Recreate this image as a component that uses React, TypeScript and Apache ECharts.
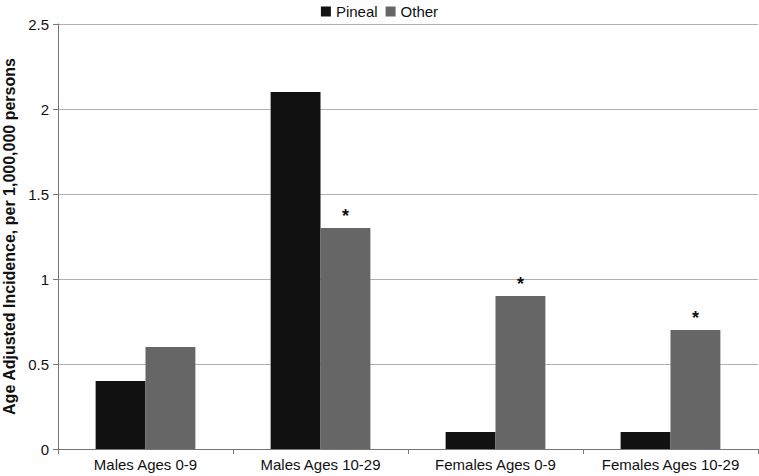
import React, { useEffect, useRef } from "react";
import * as echarts from "echarts";

const categories = ["Males Ages 0-9", "Males Ages 10-29", "Females Ages 0-9", "Females Ages 10-29"];
const pinealValues = [0.4, 2.1, 0.1, 0.1];
const otherValues = [0.6, 1.3, 0.9, 0.7];
const otherMarks = ["", "*", "*", "*"];
const yTicks = [0, 0.5, 1, 1.5, 2, 2.5];

export default function App() {
  const ref = useRef<HTMLDivElement>(null);
  useEffect(() => {
    const chart = echarts.init(ref.current!, null, { renderer: "svg" });
    const font = "'Liberation Sans', Arial, sans-serif";
    chart.setOption({
      animation: false,
      textStyle: { fontFamily: font },
      legend: {
        top: -1,
        left: "center",
        icon: "rect",
        itemWidth: 10,
        itemHeight: 10,
        itemGap: 8,
        textStyle: { fontSize: 15, color: "#111", fontFamily: font },
        data: ["Pineal", "Other"],
      },
      grid: { left: 58, right: 1, top: 24, bottom: 27, containLabel: false, outerBoundsMode: "none" },
      xAxis: {
        type: "category",
        data: categories,
        axisLine: { lineStyle: { color: "#777", width: 1 } },
        axisTick: { show: true, alignWithLabel: false, length: 5, lineStyle: { color: "#777" } },
        axisLabel: { color: "#111", fontSize: 15, margin: 8, fontFamily: font, interval: 0, hideOverlap: false },
      },
      yAxis: {
        type: "value",
        min: 0,
        max: yTicks[yTicks.length - 1],
        interval: 0.5,
        name: "Age Adjusted Incidence, per 1,000,000 persons",
        nameLocation: "middle",
        nameGap: 40,
        nameTextStyle: { fontSize: 16, fontWeight: "bold", color: "#111", fontFamily: font },
        axisLine: { show: true, lineStyle: { color: "#777" } },
        axisTick: { show: true, length: 5, lineStyle: { color: "#777" } },
        axisLabel: { color: "#111", fontSize: 15, margin: 9, fontFamily: font },
        splitLine: { show: true, lineStyle: { color: "#b0b0b0", width: 1 } },
      },
      series: [
        {
          name: "Pineal",
          type: "bar",
          data: pinealValues,
          barGap: "0%",
          barCategoryGap: "43%",
          itemStyle: { color: "#111111" },
        },
        {
          name: "Other",
          type: "bar",
          data: otherValues,
          barGap: "0%",
          barCategoryGap: "43%",
          itemStyle: { color: "#666666" },
          label: {
            show: true,
            position: "top",
            distance: 3,
            formatter: (p: any) => otherMarks[p.dataIndex],
            fontSize: 18,
            fontWeight: "bold",
            color: "#111",
            fontFamily: font,
          },
        },
      ],
    });
    return () => chart.dispose();
  }, []);
  return <div ref={ref} style={{ width: 759, height: 476, position: "absolute", left: 0, top: 0 }} />;
}
